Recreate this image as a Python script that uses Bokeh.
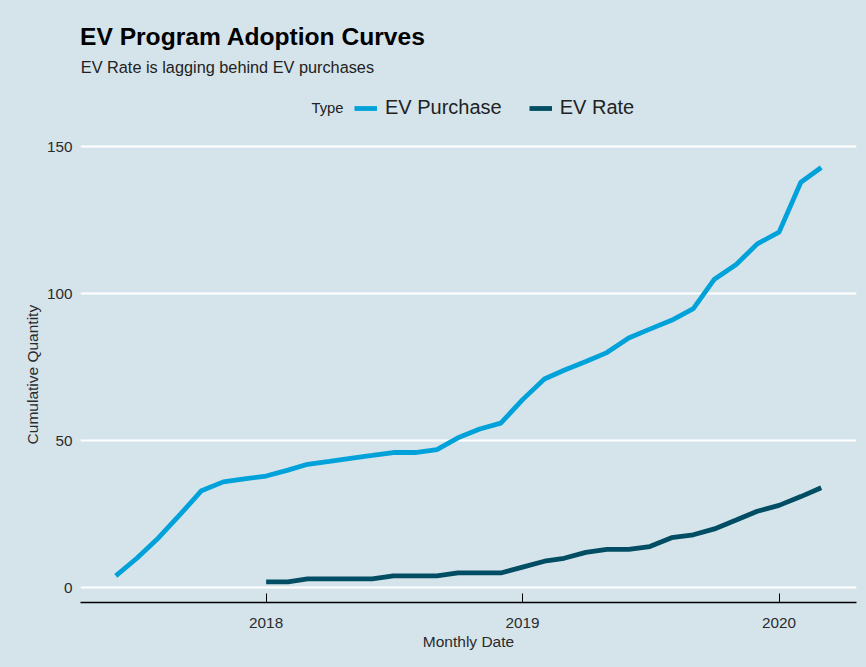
import pandas as pd
from bokeh.plotting import figure
from bokeh.models import (Range1d, FixedTicker, DatetimeTickFormatter, Title,
                          Label, Legend, LegendItem)
from bokeh.embed import file_html
from bokeh.resources import INLINE

# ---------------- data ----------------
purchase_months = [
    "2017-06", "2017-07", "2017-08", "2017-09", "2017-10", "2017-11", "2017-12",
    "2018-01", "2018-02", "2018-03", "2018-04", "2018-05", "2018-06", "2018-07",
    "2018-08", "2018-09", "2018-10", "2018-11", "2018-12",
    "2019-01", "2019-02", "2019-03", "2019-04", "2019-05", "2019-06", "2019-07",
    "2019-08", "2019-09", "2019-10", "2019-11", "2019-12",
    "2020-01", "2020-02", "2020-03",
]
purchase_qty = [4, 10, 17, 25, 33, 36, 37,
                38, 40, 42, 43, 44, 45, 46, 46, 47, 51, 54, 56,
                64, 71, 74, 77, 80, 85, 88, 91, 95, 105, 110, 117,
                121, 138, 143]

rate_months = [
    "2018-01", "2018-02", "2018-03", "2018-04", "2018-05", "2018-06", "2018-07",
    "2018-08", "2018-09", "2018-10", "2018-11", "2018-12",
    "2019-01", "2019-02", "2019-03", "2019-04", "2019-05", "2019-06", "2019-07",
    "2019-08", "2019-09", "2019-10", "2019-11", "2019-12",
    "2020-01", "2020-02", "2020-03",
]
rate_qty = [2, 2, 3, 3, 3, 3, 4, 4, 4, 5, 5, 5,
            7, 9, 10, 12, 13, 13, 14, 17, 18, 20, 23, 26,
            28, 31, 34]

series_names = ["EV Purchase", "EV Rate"]
legend_title = "Type"
tick_years = ["2018", "2019", "2020"]
y_ticks = [0, 50, 100, 150]

title_text = "EV Program Adoption Curves"
subtitle_text = "EV Rate is lagging behind EV purchases"
x_label = "Monthly Date"
y_label = "Cumulative Quantity"

# ---------------- style / layout ----------------
BG = "#d5e4eb"
BLUE = "#01a2d9"
DARK = "#014d64"
FONT = "Liberation Sans"
TEXT = "#222222"

W, H = 866, 667
FRAME_LEFT, FRAME_RIGHT = 80, 856      # px
PANEL_TOP, FRAME_BOTTOM = 146.3, 602   # px: top of the data panel, bottom of frame
# the Bokeh frame reaches the top of the canvas so header texts are not clipped

pdates = pd.to_datetime(purchase_months)
rdates = pd.to_datetime(rate_months)

# ggplot-like 5% expansion
xmin, xmax = min(pdates.min(), rdates.min()), max(pdates.max(), rdates.max())
xpad = (xmax - xmin) * 0.05
ymin, ymax = min(purchase_qty + rate_qty), max(purchase_qty + rate_qty)
ypad = (ymax - ymin) * 0.05
y_lo, y_hi = ymin - ypad, ymax + ypad
y_top = y_lo + (y_hi - y_lo) * FRAME_BOTTOM / (FRAME_BOTTOM - PANEL_TOP)

p = figure(width=W, height=H, x_axis_type="datetime",
           x_range=Range1d(xmin - xpad, xmax + xpad),
           y_range=Range1d(y_lo, y_top),
           output_backend="svg", toolbar_location=None,
           min_border_left=FRAME_LEFT, min_border_right=W - FRAME_RIGHT,
           min_border_top=0, min_border_bottom=H - FRAME_BOTTOM,
           background_fill_color=BG, border_fill_color=BG,
           outline_line_color=None)
p.title.visible = False

r1 = p.line(pdates, purchase_qty, line_color=BLUE, line_width=4.8)
r2 = p.line(rdates, rate_qty, line_color=DARK, line_width=4.8)

# x axis
tick_ms = [pd.Timestamp(y + "-01-01").value / 1e6 for y in tick_years]
p.xaxis.ticker = FixedTicker(ticks=tick_ms)
p.xaxis.formatter = DatetimeTickFormatter(
    years="%Y", months="%Y", days="%Y", hours="%Y", minutes="%Y",
    seconds="%Y", milliseconds="%Y", minsec="%Y", hourmin="%Y")
p.xaxis.axis_line_color = "black"
p.xaxis.axis_line_width = 1.3
p.xaxis.major_tick_line_color = "black"
p.xaxis.major_tick_in = 9
p.xaxis.major_tick_out = 0
p.xaxis.minor_tick_in = 0
p.xaxis.minor_tick_out = 0
p.xaxis.major_label_standoff = 15
p.xaxis.axis_label = x_label
p.xaxis.axis_label_standoff = 2

# y axis
p.yaxis.ticker = FixedTicker(ticks=y_ticks)
p.yaxis.axis_line_color = None
p.yaxis.major_tick_line_color = None
p.yaxis.minor_tick_line_color = None
p.yaxis.major_tick_out = 0
p.yaxis.major_tick_in = 0
p.yaxis.major_label_standoff = 8

for ax in (p.xaxis, p.yaxis):
    ax.major_label_text_font = FONT
    ax.major_label_text_font_size = "15.3px"
    ax.major_label_text_color = "#2b2b2b"
    ax.axis_label_text_font = FONT
    ax.axis_label_text_font_size = "15.5px"
    ax.axis_label_text_font_style = "normal"
    ax.axis_label_text_color = "#2b2b2b"

# y axis title, centred on the data panel (not on the whole frame)
label_len = 139.5
p.add_layout(Title(text=y_label, align="left",
                   offset=FRAME_BOTTOM - (PANEL_TOP + FRAME_BOTTOM) / 2 - label_len / 2,
                   standoff=6, text_font=FONT, text_font_size="15.5px",
                   text_font_style="normal", text_color="#2b2b2b"), "left")

p.xgrid.grid_line_color = None
p.ygrid.grid_line_color = "white"
p.ygrid.grid_line_width = 2

def sy(page_y):
    return FRAME_BOTTOM - page_y

def sx(page_x):
    return page_x - FRAME_LEFT

# titles
p.add_layout(Label(x=sx(79.5), y=sy(36.0), x_units="screen", y_units="screen",
                   text=title_text, text_font=FONT, text_font_size="24.6px",
                   text_font_style="bold", text_color="#000000",
                   text_baseline="alphabetic"))
p.add_layout(Label(x=sx(80.3), y=sy(66.0), x_units="screen", y_units="screen",
                   text=subtitle_text, text_font=FONT, text_font_size="16.3px",
                   text_color=TEXT, text_baseline="alphabetic"))

# legend
p.add_layout(Label(x=sx(311.0), y=sy(107.5), x_units="screen", y_units="screen",
                   text=legend_title, text_font=FONT, text_font_size="14.8px",
                   text_color=TEXT, text_baseline="alphabetic"))
legend = Legend(items=[LegendItem(label=series_names[0], renderers=[r1]),
                       LegendItem(label=series_names[1], renderers=[r2])],
                orientation="horizontal", location=(sx(354), sy(119.5)),
                padding=0, margin=0, spacing=27, label_standoff=8,
                glyph_width=23, glyph_height=24, label_height=24,
                label_text_font=FONT, label_text_font_size="20px",
                label_text_color=TEXT,
                border_line_color=None, background_fill_alpha=0)
p.add_layout(legend)

html = file_html(p, INLINE, title=title_text)
html = html.replace("</head>", "<style>body{background:%s;}</style></head>" % BG, 1)
open("out.html", "w").write(html)
